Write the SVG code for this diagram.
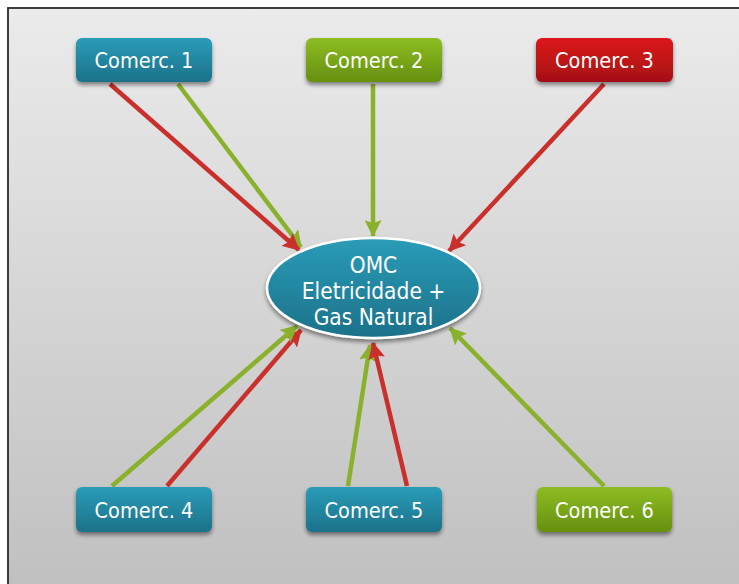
<svg xmlns="http://www.w3.org/2000/svg" width="739" height="584" viewBox="0 0 739 584">
<defs>
<linearGradient id="bg" x1="0" y1="0" x2="0" y2="1">
<stop offset="0" stop-color="#ebebeb"/><stop offset="1" stop-color="#bfbfbf"/>
</linearGradient>
<linearGradient id="gBlue" x1="0" y1="0" x2="0" y2="1">
<stop offset="0" stop-color="#2a9cb8"/><stop offset="1" stop-color="#1c7189"/>
</linearGradient>
<linearGradient id="gGreen" x1="0" y1="0" x2="0" y2="1">
<stop offset="0" stop-color="#8dbd22"/><stop offset="1" stop-color="#66900f"/>
</linearGradient>
<linearGradient id="gRed" x1="0" y1="0" x2="0" y2="1">
<stop offset="0" stop-color="#dc171b"/><stop offset="1" stop-color="#a51013"/>
</linearGradient>
<filter id="sh" x="-20%" y="-20%" width="140%" height="160%">
<feGaussianBlur in="SourceAlpha" stdDeviation="2"/>
<feOffset dx="0" dy="3" result="b"/>
<feComponentTransfer><feFuncA type="linear" slope="0.45"/></feComponentTransfer>
<feMerge><feMergeNode/><feMergeNode in="SourceGraphic"/></feMerge>
</filter>
<marker id="aR" viewBox="0 0 16 16" refX="15" refY="8" markerWidth="17" markerHeight="17" markerUnits="userSpaceOnUse" orient="auto">
<path d="M0,0 L16,8 L0,16 L3,8 Z" fill="#c9302c"/>
</marker>
<marker id="aG" viewBox="0 0 16 16" refX="15" refY="8" markerWidth="17" markerHeight="17" markerUnits="userSpaceOnUse" orient="auto">
<path d="M0,0 L16,8 L0,16 L3,8 Z" fill="#8ab12c"/>
</marker>
</defs>
<style>
.red{stroke:#c9302c;stroke-width:4.5;fill:none;marker-end:url(#aR)}
.grn{stroke:#8ab12c;stroke-width:4.5;fill:none;marker-end:url(#aG)}
.box{filter:url(#sh)}
.t{font-family:"DejaVu Sans Condensed","DejaVu Sans",sans-serif;font-stretch:condensed;font-size:21.5px;fill:#ffffff;text-anchor:middle}
.e{font-size:22.5px}
</style>
<rect x="8" y="8" width="740" height="590" fill="url(#bg)" stroke="#2a2a2a" stroke-width="1.8"/>
<g id="connectors">
<line class="grn" x1="178" y1="84" x2="301" y2="247"/>
<line class="red" x1="110" y1="84" x2="299" y2="250"/>
<line class="grn" x1="373" y1="84" x2="373" y2="236"/>
<line class="red" x1="604" y1="84" x2="449" y2="251"/>
<line class="red" x1="167" y1="486" x2="301" y2="330"/>
<line class="grn" x1="112" y1="486" x2="297" y2="326"/>
<line class="grn" x1="348" y1="486" x2="370" y2="345"/>
<line class="red" x1="407" y1="486" x2="373" y2="343"/>
<line class="grn" x1="604" y1="486" x2="450" y2="328"/>
</g>
<g id="omc">
<ellipse class="box" cx="373.5" cy="288" rx="106.5" ry="50" fill="url(#gBlue)" stroke="#ffffff" stroke-width="2.5"/>
<text class="t e" x="373.5" y="273">OMC</text>
<text class="t e" x="373.5" y="299">Eletricidade +</text>
<text class="t e" x="373.5" y="325">Gas Natural</text>
</g>
<g id="comerc1">
<rect class="box" x="76" y="38" width="136" height="44" rx="6" fill="url(#gBlue)"/>
<text class="t" x="144" y="68">Comerc. 1</text>
</g>
<g id="comerc2">
<rect class="box" x="306" y="38" width="136" height="44" rx="6" fill="url(#gGreen)"/>
<text class="t" x="374" y="68">Comerc. 2</text>
</g>
<g id="comerc3">
<rect class="box" x="536" y="38" width="137" height="44" rx="6" fill="url(#gRed)"/>
<text class="t" x="604.5" y="68">Comerc. 3</text>
</g>
<g id="comerc4">
<rect class="box" x="76" y="487" width="136" height="45" rx="6" fill="url(#gBlue)"/>
<text class="t" x="144" y="518">Comerc. 4</text>
</g>
<g id="comerc5">
<rect class="box" x="306" y="487" width="136" height="45" rx="6" fill="url(#gBlue)"/>
<text class="t" x="374" y="518">Comerc. 5</text>
</g>
<g id="comerc6">
<rect class="box" x="537" y="487" width="135" height="45" rx="6" fill="url(#gGreen)"/>
<text class="t" x="604.5" y="518">Comerc. 6</text>
</g>
</svg>
